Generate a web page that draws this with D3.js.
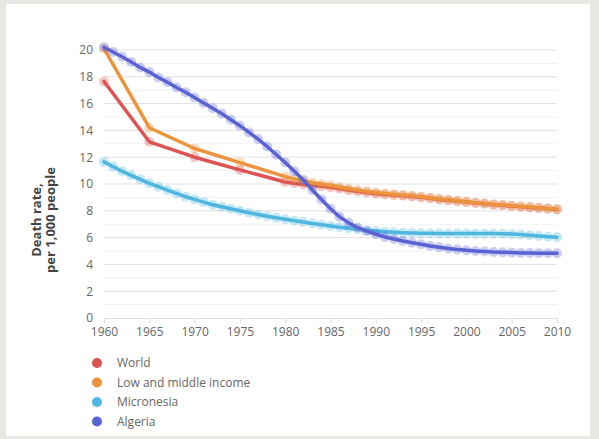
<!DOCTYPE html>
<html>
<head>
<meta charset="utf-8">
<script src="https://cdn.jsdelivr.net/npm/d3@7"></script>
<style>
  html, body { margin: 0; padding: 0; background: #e8e8e3; }
  svg { display: block; font-family: "Open Sans", sans-serif; }
</style>
</head>
<body>
<svg id="chart" width="599" height="439"></svg>
<script>
// Crude death rate per 1,000 people, 1960-2010
const seriesNames = ["World", "Low and middle income", "Micronesia", "Algeria"];
const seriesColors = ["#dd5353", "#ec943d", "#4fb6e0", "#5b63d3"];

const aggregateYears = [1960, 1965, 1970, 1975, 1980, 1981, 1982, 1983, 1984, 1985, 1986, 1987, 1988, 1989,
  1990, 1991, 1992, 1993, 1994, 1995, 1996, 1997, 1998, 1999, 2000, 2001, 2002, 2003, 2004, 2005,
  2006, 2007, 2008, 2009, 2010];
const annualYears = [1960, 1961, 1962, 1963, 1964, 1965, 1966, 1967, 1968, 1969, 1970, 1971, 1972, 1973,
  1974, 1975, 1976, 1977, 1978, 1979, 1980, 1981, 1982, 1983, 1984, 1985, 1986, 1987, 1988, 1989,
  1990, 1991, 1992, 1993, 1994, 1995, 1996, 1997, 1998, 1999, 2000, 2001, 2002, 2003, 2004, 2005,
  2006, 2007, 2008, 2009, 2010];

const worldValues = [17.65, 13.15, 12.0, 11.05, 10.15, 10.05, 9.97, 9.9, 9.83, 9.75, 9.64, 9.54, 9.44, 9.36,
  9.28, 9.22, 9.17, 9.12, 9.07, 9.01, 8.93, 8.85, 8.78, 8.71, 8.65, 8.58, 8.52, 8.46, 8.41, 8.35,
  8.3, 8.25, 8.2, 8.16, 8.1];
const lowMiddleValues = [20.1, 14.2, 12.65, 11.6, 10.55, 10.38, 10.22, 10.1, 10.0, 9.9, 9.78, 9.66, 9.55, 9.45,
  9.37, 9.3, 9.24, 9.18, 9.12, 9.05, 8.97, 8.89, 8.82, 8.75, 8.68, 8.61, 8.55, 8.49, 8.44, 8.38,
  8.33, 8.28, 8.23, 8.18, 8.13];
const micronesiaValues = [11.65, 11.3, 10.95, 10.65, 10.35, 10.05, 9.8, 9.55, 9.3, 9.05, 8.85, 8.65, 8.45, 8.3,
  8.15, 8.0, 7.85, 7.72, 7.6, 7.48, 7.37, 7.26, 7.16, 7.06, 6.96, 6.87, 6.78, 6.7, 6.62, 6.55,
  6.49, 6.44, 6.4, 6.37, 6.35, 6.33, 6.32, 6.31, 6.3, 6.3, 6.3, 6.3, 6.3, 6.3, 6.29, 6.27,
  6.23, 6.18, 6.12, 6.07, 6.03];
const algeriaValues = [20.2, 19.85, 19.5, 19.1, 18.7, 18.35, 17.95, 17.6, 17.2, 16.85, 16.45, 16.05, 15.65, 15.25,
  14.8, 14.35, 13.85, 13.35, 12.8, 12.2, 11.6, 10.95, 10.3, 9.55, 8.85, 8.15, 7.55, 7.1, 6.75, 6.48,
  6.25, 6.05, 5.9, 5.75, 5.62, 5.5, 5.38, 5.28, 5.19, 5.11, 5.05, 5.0, 4.96, 4.92, 4.9, 4.88,
  4.86, 4.85, 4.84, 4.83, 4.83];

const xTicks = [1960, 1965, 1970, 1975, 1980, 1985, 1990, 1995, 2000, 2005, 2010];
const yTicks = [0, 2, 4, 6, 8, 10, 12, 14, 16, 18, 20];
const yMinorTicks = [1, 3, 5, 7, 9, 11, 13, 15, 17, 19];
const yTitleLines = ["Death rate,", "per 1,000 people"];

const series = [
  { name: seriesNames[0], color: seriesColors[0], years: aggregateYears, values: worldValues },
  { name: seriesNames[1], color: seriesColors[1], years: aggregateYears, values: lowMiddleValues },
  { name: seriesNames[2], color: seriesColors[2], years: annualYears, values: micronesiaValues },
  { name: seriesNames[3], color: seriesColors[3], years: annualYears, values: algeriaValues }
];

const svg = d3.select("#chart");

// white card
svg.append("rect").attr("x", 6).attr("y", 4).attr("width", 584).attr("height", 432).attr("fill", "#ffffff");

const x = d3.scaleLinear().domain([1960, 2010]).range([104, 557]);
const y = d3.scaleLinear().domain([0, 20]).range([318, 50]);

// grid
svg.append("g").selectAll("line").data(yMinorTicks).join("line")
  .attr("x1", x(1960)).attr("x2", x(2010))
  .attr("y1", d => y(d)).attr("y2", d => y(d))
  .attr("stroke", "#f1f1f1").attr("stroke-width", 1);
svg.append("g").selectAll("line").data(yTicks.filter(d => d > 0)).join("line")
  .attr("x1", x(1960)).attr("x2", x(2010))
  .attr("y1", d => y(d)).attr("y2", d => y(d))
  .attr("stroke", "#e0e0e0").attr("stroke-width", 1);

// y axis labels
const yAxis = svg.append("g").attr("transform", `translate(${x(1960)},0)`)
  .call(d3.axisLeft(y).tickValues(yTicks).tickSize(0).tickPadding(11));
yAxis.select(".domain").remove();
yAxis.selectAll("text").attr("fill", "#666").style("font-size", "12px").style("font-family", "'Open Sans', sans-serif");

// x axis
const xAxis = svg.append("g").attr("transform", `translate(0,${y(0)})`)
  .call(d3.axisBottom(x).tickValues(xTicks).tickFormat(d3.format("d")).tickSize(5).tickPadding(4).tickSizeOuter(0));
xAxis.select(".domain").attr("stroke", "#dcdcdc");
xAxis.selectAll(".tick line").attr("stroke", "#dcdcdc");
xAxis.selectAll("text").attr("fill", "#666").style("font-size", "12px").style("font-family", "'Open Sans', sans-serif");

// y title
const yTitle = svg.append("text")
  .attr("transform", "translate(44,220) rotate(-90)")
  .attr("text-anchor", "middle")
  .attr("fill", "#444")
  .style("font-size", "13px").style("font-weight", "bold");
yTitle.selectAll("tspan").data(yTitleLines).join("tspan")
  .attr("x", 0).attr("y", (d, i) => i === 0 ? -3 : 11)
  .text(d => d);

// series: translucent point halos under a solid line
const line = d3.line();
series.forEach(s => {
  const pts = s.years.map((yr, i) => [x(yr), y(s.values[i])]);
  const g = svg.append("g");
  g.selectAll("circle").data(pts).join("circle")
    .attr("cx", d => d[0]).attr("cy", d => d[1]).attr("r", 5)
    .attr("fill", s.color).attr("fill-opacity", 0.32);
  g.append("path").attr("d", line(pts))
    .attr("fill", "none").attr("stroke", s.color).attr("stroke-width", 3.5)
    .attr("stroke-linejoin", "round").attr("stroke-linecap", "round");
});

// legend
const legend = svg.append("g").selectAll("g").data(series).join("g")
  .attr("transform", (d, i) => `translate(97,${363 + i * 19.5})`);
legend.append("circle").attr("r", 5).attr("fill", d => d.color);
legend.append("text").attr("x", 20).attr("dy", "0.35em")
  .attr("fill", "#666").style("font-size", "12px").text(d => d.name);
</script>
</body>
</html>
